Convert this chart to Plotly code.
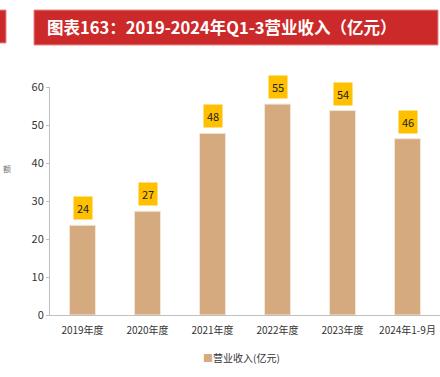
import plotly.graph_objects as go

categories = ["2019年度", "2020年度", "2021年度", "2022年度", "2023年度", "2024年1-9月"]
revenue = [23.6, 27.3, 47.8, 55.5, 53.8, 46.4]
labels = ["24", "27", "48", "55", "54", "46"]
series_name = "营业收入(亿元)"
title_text = "图表163：2019-2024年Q1-3营业收入（亿元）"

W, H = 440, 377
L, R, T, B = 50, 0, 87, 62
pw, ph = W - L - R, H - T - B

def px_x(px):
    return (px - L) / pw

def px_y(py):
    return (H - B - py) / ph

FONT = "Noto Sans CJK SC, Noto Sans, sans-serif"
BAR_COLOR = "#D5AA7F"

fig = go.Figure()
fig.add_trace(go.Bar(
    x=categories, y=revenue, name=series_name,
    marker=dict(color=BAR_COLOR, line=dict(color="#F3E6D8", width=1)),
    showlegend=False,
))

for c, v, t in zip(categories, revenue, labels):
    fig.add_annotation(
        x=c, y=v, xref="x", yref="y", text=t, showarrow=False,
        yanchor="bottom", yshift=5,
        bgcolor="#FFC000", borderpad=3,
        font=dict(size=11, color="#222222", family=FONT),
    )

# title banner
fig.add_shape(type="rect", xref="paper", yref="paper",
              x0=px_x(34), x1=px_x(438), y0=px_y(45), y1=px_y(10),
              fillcolor="#CC2A2A", line=dict(color="#E58A8A", width=1), layer="above")
fig.add_shape(type="rect", xref="paper", yref="paper",
              x0=px_x(-5), x1=px_x(6), y0=px_y(43), y1=px_y(10),
              fillcolor="#CC2A2A", line=dict(color="#E58A8A", width=1), layer="above")
fig.add_annotation(
    x=px_x(45), y=px_y(27.5), xref="paper", yref="paper", text="<b>" + title_text + "</b>",
    showarrow=False, xanchor="left", yanchor="middle",
    font=dict(size=16.5, color="white", family=FONT),
)
# small side text on left edge
fig.add_annotation(
    x=px_x(1), y=px_y(168), xref="paper", yref="paper", text="额",
    showarrow=False, xanchor="left", yanchor="middle",
    font=dict(size=8, color="#777777", family=FONT),
)
# legend drawn as text
fig.add_annotation(
    x=px_x(201), y=px_y(357), xref="paper", yref="paper",
    text='<span style="color:%s">■</span>%s' % (BAR_COLOR, series_name),
    showarrow=False, xanchor="left", yanchor="middle",
    font=dict(size=10, color="#333333", family=FONT),
)

fig.update_layout(
    width=W, height=H,
    margin=dict(l=L, r=R, t=T, b=B),
    paper_bgcolor="white", plot_bgcolor="white",
    bargap=0.6,
    showlegend=False,
    font=dict(family=FONT, size=10, color="#333333"),
)
fig.update_xaxes(showline=True, linecolor="#BFBFBF", linewidth=1, ticks="",
                 ticklabelstandoff=6,
                 tickfont=dict(size=10, color="#333333"), showgrid=False)
fig.update_yaxes(range=[0, 60], dtick=10, showline=True, linecolor="#BFBFBF", linewidth=1,
                 ticks="outside", ticklen=3, tickcolor="#BFBFBF", showgrid=False, zeroline=False,
                 tickfont=dict(size=11, color="#333333"))

fig.write_html("out.html", config={"displayModeBar": False},
               post_script="document.body.style.margin='0';")
